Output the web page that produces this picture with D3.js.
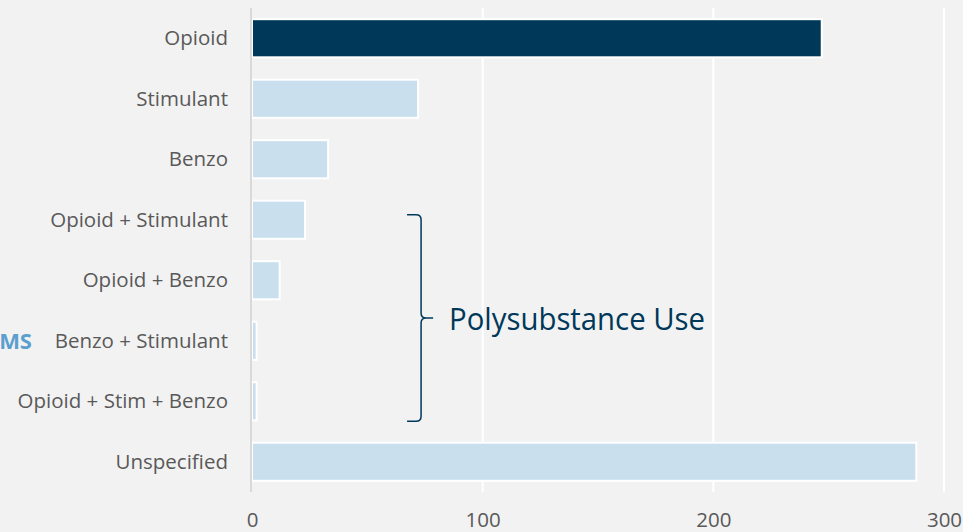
<!DOCTYPE html>
<html lang="en">
<head>
  <meta charset="UTF-8">
  <title>Substances involved</title>
  <script src="https://d3js.org/d3.v7.min.js"></script>
  <style>
    html, body { margin: 0; padding: 0; background: #f2f2f2; overflow: hidden; }
    svg { display: block; }
  </style>
</head>
<body>
  <div id="chart"></div>
  <script>
    // categories, top to bottom
    const categories = ["Opioid", "Stimulant", "Benzo", "Opioid + Stimulant",
      "Opioid + Benzo", "Benzo + Stimulant", "Opioid + Stim + Benzo", "Unspecified"];
    const counts = [247, 72, 33, 23, 12, 2, 2, 288];
    const xTicks = [0, 100, 200, 300];
    const polyGroup = ["Opioid + Stimulant", "Opioid + Stim + Benzo"];
    const polyLabel = "Polysubstance Use";

    const width = 963, height = 532;
    const margin = { top: 8, right: 19, bottom: 40, left: 252 };

    const svg = d3.select("#chart").append("svg")
      .attr("width", width).attr("height", height);

    svg.append("rect").attr("width", width).attr("height", height).attr("fill", "#f2f2f2");

    const x = d3.scaleLinear().domain([0, 300]).range([margin.left, width - margin.right]);
    const y = d3.scaleBand().domain(categories)
      .range([margin.top, height - margin.bottom]).paddingInner(0.37).paddingOuter(0.185);

    // gridlines
    svg.append("g").selectAll("line")
      .data(xTicks.filter(d => d > 0))
      .enter().append("line")
      .attr("x1", d => x(d)).attr("x2", d => x(d))
      .attr("y1", margin.top).attr("y2", height - margin.bottom)
      .attr("stroke", "#ffffff").attr("stroke-width", 2);

    // bars
    svg.append("g").selectAll("rect")
      .data(categories)
      .enter().append("rect")
      .attr("x", x(0))
      .attr("y", d => y(d))
      .attr("width", (d, i) => x(counts[i]) - x(0))
      .attr("height", y.bandwidth())
      .attr("fill", (d, i) => i === 0 ? "#00385a" : "#c9dfed")
      .attr("stroke", "#ffffff").attr("stroke-width", 2);

    // y axis line
    svg.append("line")
      .attr("x1", x(0) - 1).attr("x2", x(0) - 1)
      .attr("y1", margin.top).attr("y2", height - margin.bottom)
      .attr("stroke", "#d9d9d9").attr("stroke-width", 2);

    // category labels
    svg.append("g").selectAll("text")
      .data(categories)
      .enter().append("text")
      .attr("x", x(0) - 24)
      .attr("y", d => y(d) + y.bandwidth() / 2)
      .attr("dy", "0.35em")
      .attr("text-anchor", "end")
      .attr("font-family", "Open Sans, sans-serif")
      .attr("font-size", 20.5)
      .attr("fill", "#595959")
      .text(d => d);

    // x axis
    const xAxis = d3.axisBottom(x).tickValues(xTicks).tickSize(0).tickPadding(0);
    const gx = svg.append("g").attr("transform", `translate(0,${height - margin.bottom + 28})`).call(xAxis);
    gx.select(".domain").remove();
    gx.selectAll("text")
      .attr("font-family", "Open Sans, sans-serif")
      .attr("font-size", 20.5)
      .attr("fill", "#595959")
      .attr("dy", "0.35em");

    // polysubstance bracket
    const bx = x(73.3);
    const bTop = y(polyGroup[0]) + y.bandwidth() / 2 - 5;
    const bBot = y(polyGroup[1]) + y.bandwidth() + 1;
    const bMid = (bTop + bBot) / 2;
    const r = 5;
    const path = d3.path();
    path.moveTo(bx - 14, bTop);
    path.lineTo(bx - r, bTop);
    path.quadraticCurveTo(bx, bTop, bx, bTop + r);
    path.lineTo(bx, bMid - r);
    path.quadraticCurveTo(bx, bMid, bx + r, bMid);
    path.lineTo(bx + 12, bMid);
    path.moveTo(bx + r, bMid);
    path.quadraticCurveTo(bx, bMid, bx, bMid + r);
    path.lineTo(bx, bBot - r);
    path.quadraticCurveTo(bx, bBot, bx - r, bBot);
    path.lineTo(bx - 14, bBot);
    svg.append("path").attr("d", path.toString())
      .attr("fill", "none").attr("stroke", "#00385a").attr("stroke-width", 1.5);

    svg.append("text")
      .attr("x", bx + 28).attr("y", bMid + 12)
      .attr("font-family", "Open Sans, sans-serif")
      .attr("font-size", 31)
      .attr("fill", "#00385a")
      .attr("textLength", 256).attr("lengthAdjust", "spacingAndGlyphs")
      .text(polyLabel);

    // clipped slide text at the left edge
    svg.append("text")
      .attr("x", 32).attr("y", y("Benzo + Stimulant") + y.bandwidth() / 2 + 8)
      .attr("text-anchor", "end")
      .attr("font-family", "Open Sans, sans-serif")
      .attr("font-weight", "bold")
      .attr("font-size", 22)
      .attr("fill", "#5c9fcf")
      .text("MS");
  </script>
</body>
</html>
